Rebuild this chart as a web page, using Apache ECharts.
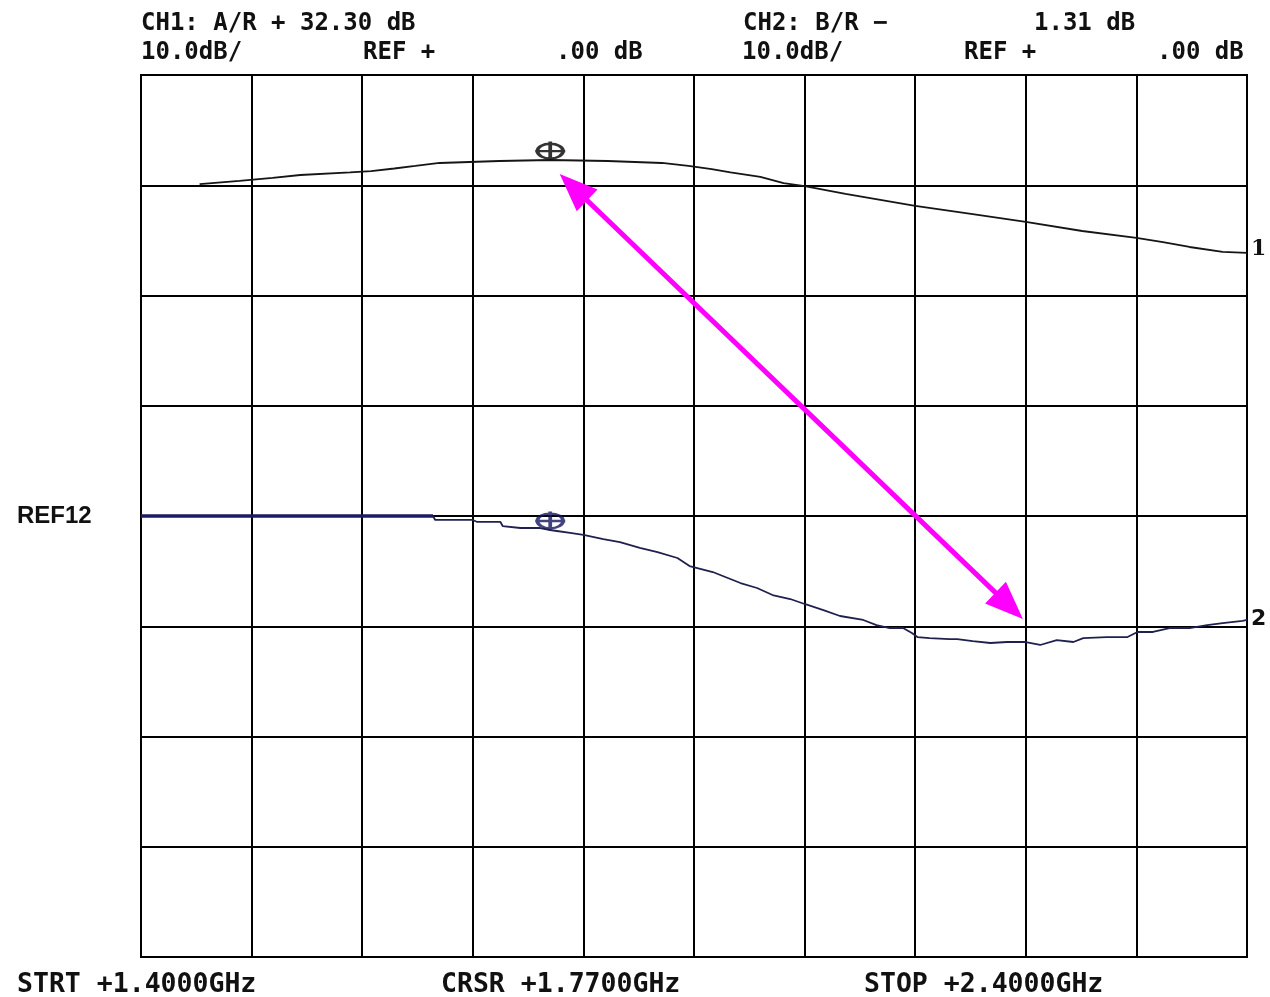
<!DOCTYPE html>
<html>
<head>
<meta charset="utf-8">
<style>
  html, body { margin: 0; padding: 0; background: #fff; }
  #chart { width: 1270px; height: 997px; }
</style>
<script src="https://cdn.jsdelivr.net/npm/echarts@6/dist/echarts.min.js"></script>
</head>
<body>
<div id="chart"></div>
<script>
// sweep 1.4 - 2.4 GHz, 10 dB/div, REF 0 dB at centre line
const xTicks = [1.4, 2.4, 0.1];
const yTicks = [-40, 40, 10];

// CH1: A/R (GHz, dB)
const ch1Freq = [1.453, 1.489, 1.519, 1.544, 1.589, 1.608, 1.629, 1.648, 1.670, 1.724, 1.770, 1.822, 1.871, 1.895, 1.916, 1.933, 1.960, 1.981, 2.000, 2.037, 2.100, 2.152, 2.200, 2.251, 2.300, 2.324, 2.348, 2.378, 2.400];
const ch1Db   = [30.11, 30.39, 30.66, 30.93, 31.16, 31.29, 31.52, 31.75, 32.02, 32.20, 32.29, 32.20, 32.02, 31.75, 31.47, 31.16, 30.75, 30.20, 29.93, 29.21, 28.12, 27.39, 26.67, 25.85, 25.22, 24.85, 24.40, 23.95, 23.86];

// CH2: B/R (GHz, dB)
const ch2HeldFreq = [1.400, 1.664];
const ch2HeldDb   = [0, 0];
const ch2Freq = [1.664, 1.666, 1.700, 1.704, 1.725, 1.727, 1.743, 1.761, 1.770, 1.776, 1.788, 1.800, 1.818, 1.833, 1.851, 1.867, 1.885, 1.896, 1.917, 1.926, 1.942, 1.957, 1.971, 1.987, 2.000, 2.017, 2.032, 2.053, 2.065, 2.077, 2.089, 2.097, 2.102, 2.113, 2.131, 2.138, 2.152, 2.168, 2.183, 2.200, 2.213, 2.228, 2.243, 2.252, 2.273, 2.292, 2.301, 2.315, 2.330, 2.348, 2.364, 2.378, 2.396, 2.400];
const ch2Db   = [0, -0.36, -0.36, -0.54, -0.54, -0.91, -1.09, -1.09, -1.27, -1.36, -1.54, -1.72, -2.09, -2.36, -2.90, -3.27, -3.81, -4.54, -5.08, -5.44, -6.08, -6.53, -7.17, -7.53, -7.98, -8.53, -9.07, -9.43, -9.89, -10.16, -10.16, -10.61, -10.98, -11.07, -11.16, -11.16, -11.34, -11.52, -11.43, -11.43, -11.70, -11.25, -11.43, -11.07, -10.98, -10.98, -10.52, -10.52, -10.16, -10.16, -9.89, -9.71, -9.52, -9.43];

// cursor markers and the annotation arrow (GHz, dB; arrow ends sit at the centre of each head)
const cursorFreq = 1.77;
const cursorDb = [33.1, -0.45];
const arrowFrom = [1.791, 29.82];
const arrowTo = [2.185, -8.15];

const zip = (a, b) => a.map((v, i) => [v, b[i]]);

const monoBold = 'bold 24px "DejaVu Sans Mono"';
const monoBottom = 'bold 26.5px "DejaVu Sans Mono"';
const ink = '#111';
const txt = (left, top, text, font) => ({ type: 'text', left, top, style: { text, font: font || monoBold, fill: ink } });

const markerPath = 'path://M2,9 A12,7 0 1,0 26,9 A12,7 0 1,0 2,9 Z M14,0 L14,18 M0,9 L28,9';

const chart = echarts.init(document.getElementById('chart'));
chart.setOption({
  animation: false,
  backgroundColor: '#fff',
  grid: { left: 141, right: 23, top: 75, bottom: 40, show: true, borderColor: '#000', borderWidth: 2 },
  xAxis: {
    type: 'value', min: xTicks[0], max: xTicks[1], interval: xTicks[2],
    axisLabel: { show: false }, axisTick: { show: false }, axisLine: { show: false },
    splitLine: { show: true, lineStyle: { color: '#000', width: 2 } }
  },
  yAxis: {
    type: 'value', min: yTicks[0], max: yTicks[1], interval: yTicks[2],
    axisLabel: { show: false }, axisTick: { show: false }, axisLine: { show: false },
    splitLine: { show: true, lineStyle: { color: '#000', width: 2 } }
  },
  series: [
    {
      name: 'CH1', type: 'line', data: zip(ch1Freq, ch1Db), showSymbol: false,
      lineStyle: { color: '#151515', width: 1.8 }
    },
    {
      name: 'CH2 held', type: 'line', data: zip(ch2HeldFreq, ch2HeldDb), showSymbol: false,
      lineStyle: { color: '#1b1b66', width: 3.5 }
    },
    {
      name: 'CH2', type: 'line', data: zip(ch2Freq, ch2Db), showSymbol: false,
      lineStyle: { color: '#20204f', width: 1.8 },
      markLine: {
        silent: true, symbol: ['triangle', 'triangle'], symbolSize: [30, 38],
        label: { show: false },
        lineStyle: { color: '#ff00ff', width: 5, type: 'solid' },
        data: [[{ coord: arrowFrom }, { coord: arrowTo }]]
      }
    },
    {
      name: 'CH1 cursor', type: 'scatter', data: [[cursorFreq, cursorDb[0]]],
      symbol: markerPath, symbolSize: [30, 19], symbolKeepAspect: false,
      itemStyle: { color: 'none', borderColor: '#000', borderWidth: 3 }
    },
    {
      name: 'CH2 cursor', type: 'scatter', data: [[cursorFreq, cursorDb[1]]],
      symbol: markerPath, symbolSize: [30, 19], symbolKeepAspect: false,
      itemStyle: { color: 'none', borderColor: '#14145e', borderWidth: 3 }
    }
  ],
  graphic: [
    txt(141, 12, 'CH1: A/R + 32.30 dB'),
    txt(141, 41, '10.0dB/'),
    txt(363, 41, 'REF +'),
    txt(556, 41, '.00 dB'),
    txt(743, 12, 'CH2: B/R \u2212'),
    txt(1034, 12, '1.31 dB'),
    txt(742, 41, '10.0dB/'),
    txt(964, 41, 'REF +'),
    txt(1157, 41, '.00 dB'),
    txt(17, 504, 'REF12', 'bold 24px "Liberation Sans"'),
    txt(1251, 238, '1', 'bold 22px "DejaVu Serif"'),
    txt(1251, 608, '2', 'bold 22px "DejaVu Sans"'),
    txt(17, 972, 'STRT +1.4000GHz', monoBottom),
    txt(441, 972, 'CRSR +1.7700GHz', monoBottom),
    txt(864, 972, 'STOP +2.4000GHz', monoBottom)
  ]
});
window.addEventListener('resize', () => chart.resize());
</script>
</body>
</html>
